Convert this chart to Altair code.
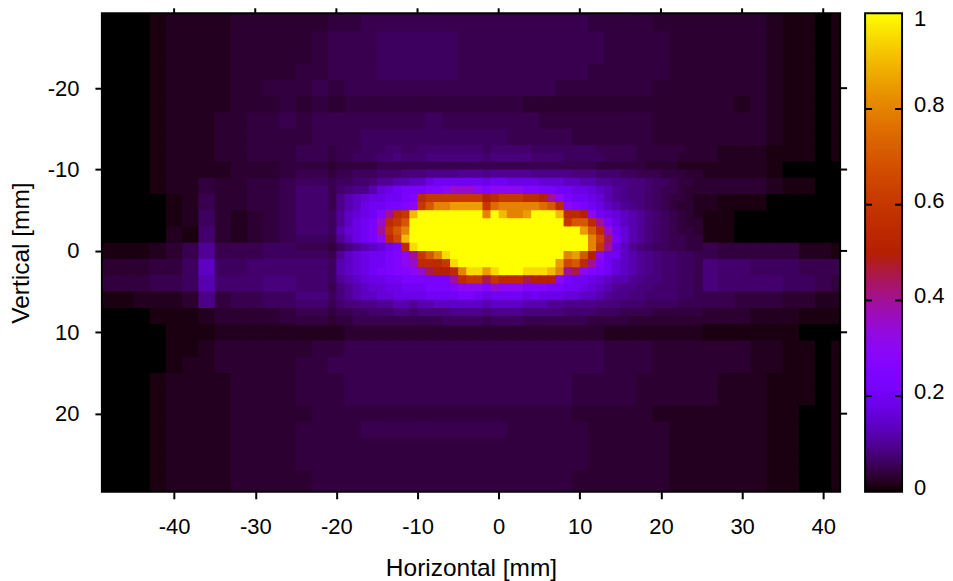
import math
import altair as alt
import pandas as pd

FONT = "Liberation Sans"
LEVELS = {"0":0,"1":.01,"2":.02,"3":.03,"4":.04,"5":.05,"6":.06,"7":.07,"8":.08,"9":.09,
          "a":.10,"b":.12,"c":.14,"d":.16,"e":.18,"f":.20,"g":.23,"h":.26,"i":.30,"j":.35,
          "k":.40,"l":.45,"m":.50,"n":.55,"o":.60,"p":.65,"q":.70,"r":.75,"s":.80,"t":.85,
          "u":.90,"v":.95,"w":1.0}

# whole field: 2 mm cells, x from -48 to 42, y from -30 to 30
COARSE = [
"00011 22223 33333 44444 44444 44444 44433 33333 32110 1",
"00012 22233 33334 45555 55555 55555 44443 33333 32110 1",
"00012 22233 33345 55666 66555 55555 54444 33333 32110 1",
"00012 22233 33345 55666 66555 55555 54444 33333 32110 1",
"00012 22233 33445 55666 66555 55555 44444 33333 32110 1",
"00012 22233 44454 55555 55555 55544 44443 33333 32110 1",
"00012 22233 34343 44444 44444 43333 33333 33332 32110 1",
"00012 22334 45455 55555 65555 55444 44443 33333 32110 1",
"00012 22334 44455 56666 66666 55554 44443 33333 32110 1",
"00012 22334 44455 66777 77777 76654 44443 33322 21110 1",
"00012 22233 34344 44444 44544 44443 33322 22222 21000 0",
"00012 24334 45566 66666 66666 66666 66654 44333 32110 0",
"00001 25334 45666 66666 66666 66666 66654 32211 10000 0",
"00001 26323 45666 66666 66666 66666 66643 21110 00000 0",
"00002 17323 45666 66666 66666 66666 66654 32110 00000 0",
"11123 5a555 66777 77777 77777 77777 77776 65544 44422 1",
"33344 6c667 77888 88888 88888 88888 88998 88877 66655 5",
"44455 6b777 88999 99999 99999 99999 99888 88877 77665 4",
"11222 39455 66777 77777 77777 77777 77666 55554 44332 2",
"00011 12333 34444 55555 55555 55555 54443 33333 22211 1",
"00001 11222 22222 33333 33333 33333 32222 22111 11100 0",
"00001 12333 33344 55555 55555 55555 54443 33333 22110 1",
"00001 22333 33445 55555 55555 55555 54443 33333 22110 1",
"00012 22233 33444 55555 55555 55554 44433 33322 21110 1",
"00012 22233 33444 55555 55555 55554 44433 33322 21110 1",
"00012 22233 33344 44444 44444 44443 33332 22222 21100 1",
"00012 22233 33444 45555 55555 44444 33333 22222 21100 1",
"00012 22233 33444 44444 44444 44444 33333 22222 21100 1",
"00012 22233 33444 44444 44444 44444 33333 22222 21100 1",
"00012 22233 33344 44444 44444 44443 33333 22222 21100 1",
"00012 22233 33344 44444 44444 44443 33333 22222 21100 1",
]
COARSE_X0, COARSE_Y0, COARSE_STEP = -48, -30, 2

# central field: 1 mm cells, x from -24.5 to 24.5, y from -12.5 to 8.5
FINE = [
"5555455566 6776677777 7776777776 6666666555 5544444433",
"5555455666 7787778888 8887888887 7776666655 5544444333",
"4444344444 5555555555 5555555555 5555555444 4443333222",
"5555455666 7778889999 aaa9aaaaa9 9999888777 6655544433",
"6666566778 aabbccefff fffeffeeee dddccbbaa9 9887665443",
"777757899b defggghhij jjihiiiihh ggffeedcba 9887655433",
"777759bcde effghnoooo ooomnooonn mkigffedba 9887654432",
"777759bcef fgghioqsst tttorsssss rqnihgfecb a987654332",
"77776acdef hknouwwwww wwwswusstw wwunnmifed cba8765432",
"77776acefg jnoqwwwwww wwwwwwwwww wwwoqqnkge cba8765433",
"77776bdefg koqswwwwww wwwwwwwwww wwwwwtqnjf dba8765443",
"66665acefg inpuwwwwww wwwwwwwwww wwwwwwsplg dba8765544",
"5555468abc dfgnvwwwww wwwwwwwwww wwwwwwsoke ca87665544",
"66665acdef fghikoqsvw wwwwwwwwww wwwstqmiff cba9877665",
"77776bcdef fghijnnnov wwwwwwwwww wwtpqnkhfd cba9877665",
"77776bcdef gghhijlmmn svvtvwwwvv vusklihgfd cba9877665",
"77776abcde effggggggk noolonnnlm mmigffedcb ba98877665",
"777758abcd deefffgggh iiihjiiihh hggffedcba 9988777665",
"888868abcc ddeeeeffff ggfeffffef eeeddccba9 9887777665",
"7777578899 aabbabbccc cccbccccbb baa9999888 7776666555",
"5555455667 7788788889 9998999988 8887777666 5555444444",
"4444344555 5555555566 6665666655 5555554444 4333333333",
]
FINE_X0, FINE_Y0, FINE_STEP = -24.5, -12.5, 1

X_TICKS = [-40, -30, -20, -10, 0, 10, 20, 30, 40]
Y_TICKS = [-20, -10, 0, 10, 20]
CB_TICKS = [0, 0.2, 0.4, 0.6, 0.8]
CB_TOP = [1]
X_DOMAIN = [-48.9, 42.08]
Y_DOMAIN = [-29.2, 29.6]
W, H = 739, 479
CB_W = 37
OVERLAP = 0.16


# gnuplot default pm3d palette (rgbformulae 7,5,15)
def pal(t):
    r = math.sqrt(t)
    g = t ** 3
    b = max(0.0, math.sin(2 * math.pi * t))
    return "#%02x%02x%02x" % (round(r * 255), round(g * 255), round(b * 255))


def cells(rows, x0, y0, step):
    out = []
    for r, row in enumerate(rows):
        for c, ch in enumerate(row.replace(" ", "")):
            x = x0 + c * step
            y = y0 + r * step
            out.append({"x": x - step / 2, "x2": x + step / 2 + OVERLAP,
                        "y": y - step / 2, "y2": y + step / 2 + OVERLAP,
                        "c": pal(LEVELS[ch])})
    return out


xs = alt.Scale(domain=X_DOMAIN, nice=False, zero=False)
ys = alt.Scale(domain=Y_DOMAIN, nice=False, zero=False, reverse=True)

FS = 22
TS = 24.5


def heat(data):
    return alt.Chart(alt.Data(values=data)).mark_rect(clip=True).encode(
        x=alt.X("x:Q", scale=xs,
                axis=alt.Axis(values=X_TICKS, title="Horizontal [mm]", grid=False, domain=False,
                              tickSize=7, tickWidth=2, tickColor="black", labelColor="black",
                              labelFont=FONT, labelFontSize=FS, titleFont=FONT, titleFontSize=TS,
                              titleFontWeight="normal", titleColor="black",
                              labelExpr="'' + datum.value",
                              labelPadding=18, titlePadding=19, labelFlush=False)),
        x2="x2:Q",
        y=alt.Y("y:Q", scale=ys,
                axis=alt.Axis(values=Y_TICKS, title="Vertical [mm]", grid=False, domain=False,
                              tickSize=7, tickWidth=2, tickColor="black", labelColor="black",
                              labelFont=FONT, labelFontSize=FS, titleFont=FONT, titleFontSize=TS,
                              titleFontWeight="normal", titleColor="black",
                              labelExpr="'' + datum.value",
                              labelPadding=16, titlePadding=14)),
        y2="y2:Q",
        color=alt.Color("c:N", scale=None),
    )


coarse = heat(cells(COARSE, COARSE_X0, COARSE_Y0, COARSE_STEP))
fine = heat(cells(FINE, FINE_X0, FINE_Y0, FINE_STEP))

tx = pd.DataFrame({"t": X_TICKS})
ty = pd.DataFrame({"t": Y_TICKS})
top_ticks = alt.Chart(tx).mark_rule(color="black", strokeWidth=2).encode(
    x=alt.X("t:Q", scale=xs), y=alt.value(-5), y2=alt.value(0))
right_ticks = alt.Chart(ty).mark_rule(color="black", strokeWidth=2).encode(
    y=alt.Y("t:Q", scale=ys), x=alt.value(W), x2=alt.value(W + 7))
frame = alt.Chart(tx.head(1)).mark_rect(fillOpacity=0, stroke="black", strokeWidth=2).encode(
    x=alt.value(0), x2=alt.value(W), y=alt.value(0), y2=alt.value(H))

main = alt.layer(coarse, fine, top_ticks, right_ticks, frame).properties(width=W, height=H)

# colour box: one overlapping strip per pixel row, painted upwards
cb_df = pd.DataFrame({"v": [i / H for i in range(H)],
                      "v2": [(i + 2.5) / H for i in range(H)],
                      "c": [pal((i + 0.5) / H) for i in range(H)]})
cby = alt.Scale(domain=[0, 1], nice=False, zero=False)
cb = alt.Chart(cb_df).mark_rect(clip=True).encode(
    y=alt.Y("v2:Q", scale=cby, axis=None), y2="v:Q",
    x=alt.value(0), x2=alt.value(CB_W),
    color=alt.Color("c:N", scale=None),
)
cb_t = pd.DataFrame({"t": CB_TICKS})
cb_inner = cb_t[cb_t.t > 0]
cb_l = alt.Chart(cb_inner).mark_rule(color="black", strokeWidth=2).encode(
    y=alt.Y("t:Q", scale=cby, axis=None), x=alt.value(0), x2=alt.value(7))
cb_r = alt.Chart(cb_inner).mark_rule(color="black", strokeWidth=2).encode(
    y=alt.Y("t:Q", scale=cby, axis=None), x=alt.value(CB_W - 7), x2=alt.value(CB_W))
cb_text = alt.Chart(cb_t).mark_text(align="left", baseline="middle", dy=-4, font=FONT,
                                    fontSize=FS, color="black").encode(
    y=alt.Y("t:Q", scale=cby, axis=None), x=alt.value(49), text=alt.Text("t:N"))
cb_top = alt.Chart(pd.DataFrame({"t": CB_TOP})).mark_text(align="left", baseline="middle", dy=6,
                                    font=FONT, fontSize=FS, color="black").encode(
    y=alt.Y("t:Q", scale=cby, axis=None), x=alt.value(49), text=alt.Text("t:N"))
cb_frame = alt.Chart(cb_t.head(1)).mark_rect(fillOpacity=0, stroke="black", strokeWidth=2).encode(
    x=alt.value(0), x2=alt.value(CB_W), y=alt.value(0), y2=alt.value(H))
colorbar = alt.layer(cb, cb_l, cb_r, cb_text, cb_top, cb_frame).properties(width=CB_W, height=H)

chart = alt.hconcat(main, colorbar, spacing=16,
                    padding={"left": 0, "top": -1, "right": 0, "bottom": 0}
                    ).configure_view(stroke=None)

chart.save("out.html", embed_options={"renderer": "svg", "actions": False})
